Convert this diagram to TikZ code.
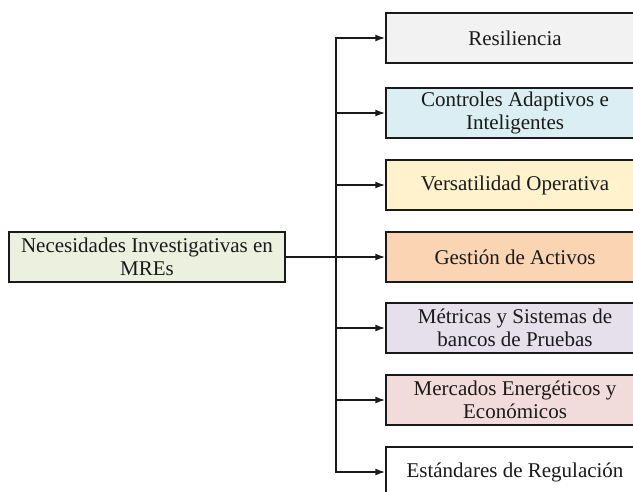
\documentclass[tikz,border=0pt]{standalone}
\usepackage{fontspec}
\setmainfont{Liberation Serif}
\usetikzlibrary{arrows.meta}
\definecolor{cRes}{HTML}{F2F2F2}
\definecolor{cCon}{HTML}{DAEEF3}
\definecolor{cVer}{HTML}{FFF2CC}
\definecolor{cGes}{HTML}{FBD4B4}
\definecolor{cMet}{HTML}{E5E0EC}
\definecolor{cMer}{HTML}{F2DCDB}
\definecolor{cEst}{HTML}{FFFFFF}
\definecolor{cNec}{HTML}{EBF1DE}
\definecolor{lineC}{HTML}{1A1A1A}
\begin{document}
\begin{tikzpicture}[x=1pt,y=-1pt,
  every node/.style={font=\fontsize{21}{22.5}\selectfont, text=lineC},
  mainbox/.style={draw=lineC, line width=1.5pt, rectangle, minimum width=276pt, minimum height=50pt, align=center, inner sep=0pt},
  itembox/.style={draw=lineC, line width=1.5pt, rectangle, minimum width=258pt, minimum height=50pt, align=center, inner sep=0pt},
  conn/.style={draw=lineC, line width=1.5pt},
  arr/.style={conn, -{Latex[length=10pt,width=7pt]}}]
\useasboundingbox (0,0) rectangle (633,491);
\clip (0,0) rectangle (633,491);
\node[mainbox, fill=cNec] (nec) at (147,257) {Necesidades Investigativas en\\MREs};
\node[itembox, fill=cRes] (res) at (515,38) {Resiliencia};
\node[itembox, fill=cCon] (con) at (515,113) {Controles Adaptivos e\\Inteligentes};
\node[itembox, fill=cVer] (ver) at (515,185) {Versatilidad Operativa};
\node[itembox, fill=cGes] (ges) at (515,257) {Gestión de Activos};
\node[itembox, fill=cMet] (met) at (515,328) {Métricas y Sistemas de\\bancos de Pruebas};
\node[itembox, fill=cMer] (mer) at (515,400) {Mercados Energéticos y\\Económicos};
\node[itembox, fill=cEst] (est) at (515,472) {Estándares de Regulación};
\coordinate (trunk) at (336,257);
\draw[conn] (nec.east) -- (trunk);
\foreach \n in {res,con,ver,ges,met,mer,est}{
  \draw[arr] (trunk) |- (\n.west);
}
\end{tikzpicture}
\end{document}
